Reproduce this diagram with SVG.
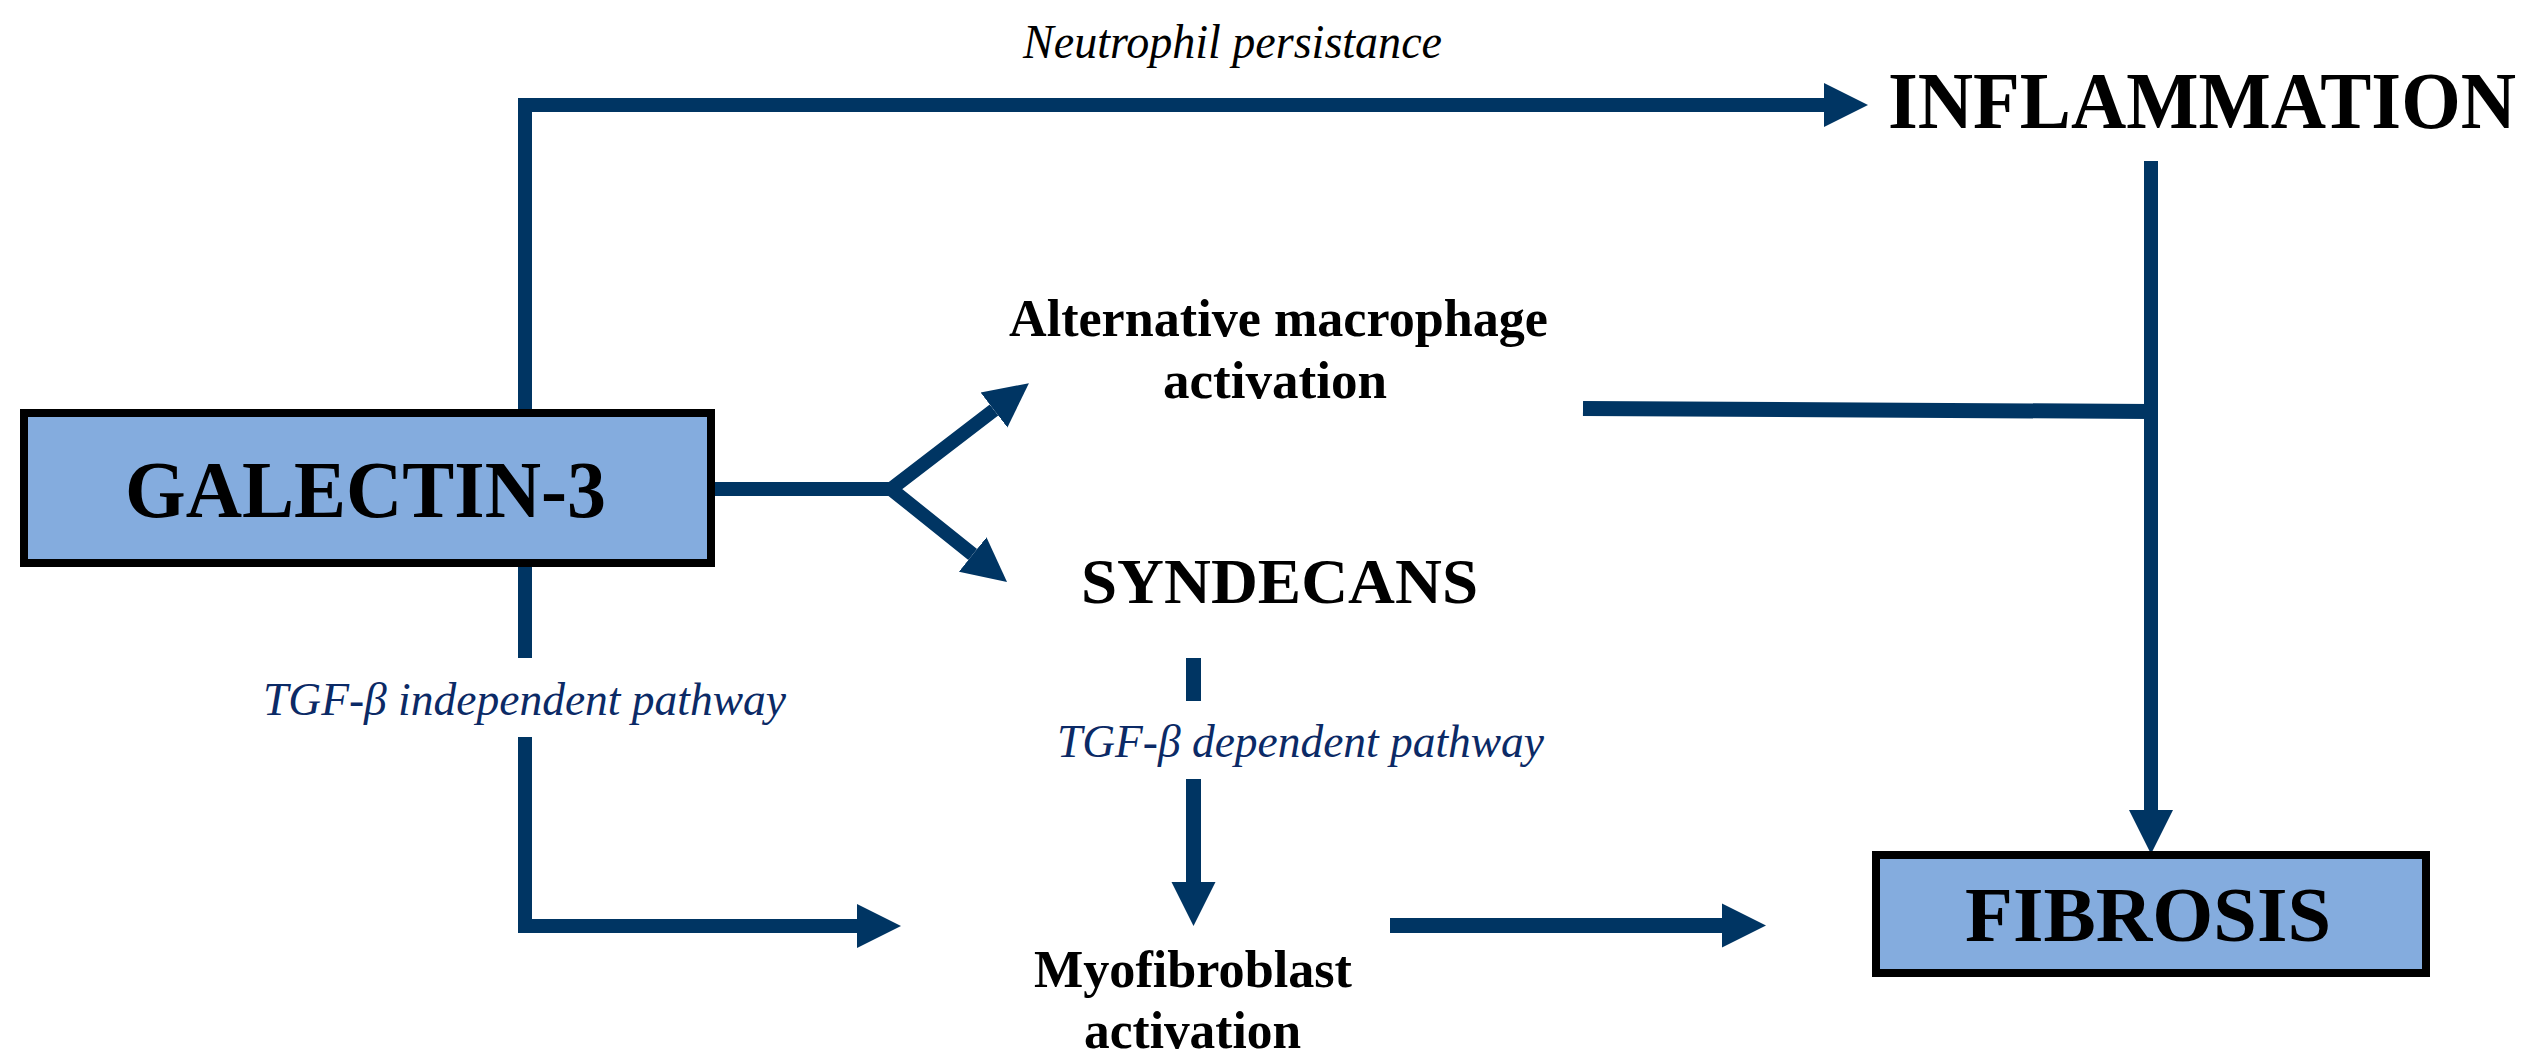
<svg xmlns="http://www.w3.org/2000/svg" width="2539" height="1062" viewBox="0 0 2539 1062">
<style>
.node{font-family:"Liberation Serif","Times New Roman",serif;font-weight:bold;fill:#000}
.lbl{font-family:"Liberation Serif","Times New Roman",serif;font-style:italic}
.box{fill:#84ACDE;stroke:#000;stroke-width:8}
.ln{fill:none;stroke:#003563;stroke-width:14;stroke-linejoin:miter}
</style>
<defs>
<marker id="ah" markerUnits="userSpaceOnUse" markerWidth="46" markerHeight="46" refX="0" refY="22" orient="auto-start-reverse" viewBox="0 0 46 44">
<path d="M0,0 L44,22 L0,44 z" fill="#003563"/>
</marker>
</defs>
<rect width="2539" height="1062" fill="#fff"/>
<g id="connectors">
<path class="ln" d="M525,409 V105 H1824" style="stroke-width:14" marker-end="url(#ah)"/>
<path class="ln" d="M715,489 H893"/>
<path class="ln" d="M972.7,554.5 L891,489 L994,410" marker-start="url(#ah)" marker-end="url(#ah)"/>
<path class="ln" d="M525,567 V658"/>
<path class="ln" d="M525,737 V926 H857" marker-end="url(#ah)"/>
<path class="ln" d="M1193.5,658 V701" style="stroke-width:15"/>
<path class="ln" d="M1193.5,779 V882" style="stroke-width:15" marker-end="url(#ah)"/>
<path class="ln" d="M1390,925.5 H1722" style="stroke-width:15" marker-end="url(#ah)"/>
<path class="ln" d="M2151,161 V810" marker-end="url(#ah)"/>
<path class="ln" d="M1583,408.5 L2151,411.5" style="stroke-width:15"/>
</g>
<g id="label-neutrophil">
<text class="lbl" x="1023" y="58" font-size="48" fill="#000" textLength="419" lengthAdjust="spacingAndGlyphs">Neutrophil persistance</text>
</g>
<g id="label-tgf-independent">
<text class="lbl" x="263" y="715" font-size="47" fill="#0B2A66" textLength="523" lengthAdjust="spacingAndGlyphs">TGF-β independent pathway</text>
</g>
<g id="label-tgf-dependent">
<text class="lbl" x="1057" y="757" font-size="47" fill="#0B2A66" textLength="487" lengthAdjust="spacingAndGlyphs">TGF-β dependent pathway</text>
</g>
<g id="galectin3">
<rect class="box" x="24" y="413" width="687" height="150"/>
<text class="node" x="125" y="517" font-size="80" textLength="481" lengthAdjust="spacingAndGlyphs">GALECTIN-3</text>
</g>
<g id="inflammation">
<text class="node" x="1888" y="128" font-size="80" textLength="628" lengthAdjust="spacingAndGlyphs">INFLAMMATION</text>
</g>
<g id="macrophage">
<text class="node" x="1009" y="336" font-size="52" textLength="539" lengthAdjust="spacingAndGlyphs">Alternative macrophage</text>
<text class="node" x="1163" y="398" font-size="52" textLength="224" lengthAdjust="spacingAndGlyphs">activation</text>
</g>
<g id="syndecans">
<text class="node" x="1081" y="603" font-size="64" textLength="397" lengthAdjust="spacingAndGlyphs">SYNDECANS</text>
</g>
<g id="myofibroblast">
<text class="node" x="1034" y="987" font-size="52" textLength="318" lengthAdjust="spacingAndGlyphs">Myofibroblast</text>
<text class="node" x="1084" y="1048" font-size="52" textLength="217" lengthAdjust="spacingAndGlyphs">activation</text>
</g>
<g id="fibrosis">
<rect class="box" x="1876" y="855" width="550" height="118"/>
<text class="node" x="1965" y="941" font-size="78" textLength="366" lengthAdjust="spacingAndGlyphs">FIBROSIS</text>
</g>
</svg>
